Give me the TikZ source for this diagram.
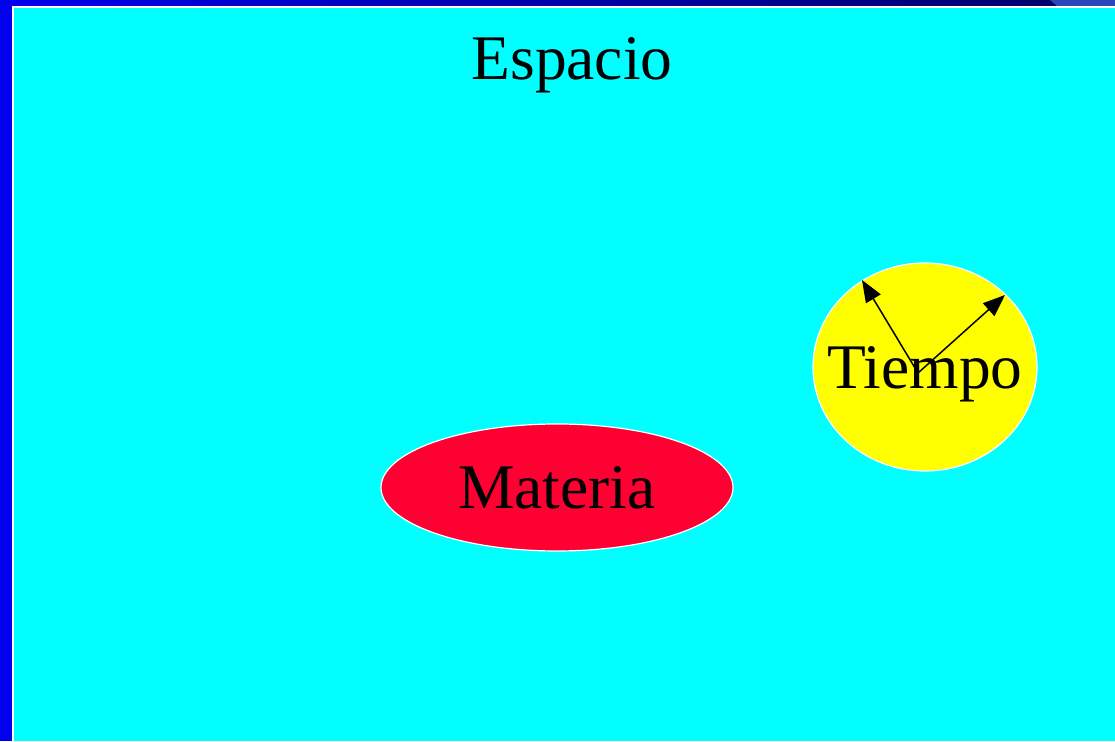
\documentclass[tikz,border=0pt]{standalone}
\usepackage{fontspec}
\setmainfont{Liberation Serif}
\usetikzlibrary{shapes.geometric,arrows.meta}

\definecolor{azul}{HTML}{0000EE}
\definecolor{marino}{HTML}{000066}
\definecolor{claro}{HTML}{2A48B8}
\definecolor{cian}{HTML}{00FFFF}
\definecolor{rojo}{HTML}{FF0033}
\definecolor{amarillo}{HTML}{FFFF00}

\begin{document}
\begin{tikzpicture}[x=1pt,y=1pt]
        \tikzstyle{every node}=[font=\fontsize{63.5}{70}\selectfont, inner sep=0pt]
        \tikzstyle{conjunto}=[ellipse, draw=white, line width=1.2pt, text depth=0pt]
        \tikzstyle{flecha}=[-{Triangle[length=22pt,width=17pt]}, line width=1.5pt]

        % fondo
        \fill[azul] (0,0) rectangle (1115,741);
        \shade[left color=azul, right color=marino] (0,735) rectangle (1115,741);
        \fill[claro] (1050,741) -- (1115,741) -- (1115,735) -- (1057,735) -- cycle;
        \fill[white] (12,0) rectangle (1115,735);
        \fill[cian] (14,0) rectangle (1115,733);

        \node   (espacio)   [anchor=base] at (572,661) {Espacio};
        \node   (materia)   [conjunto, fill=rojo, minimum width=352, minimum height=127] at (557,253.5) {Materia};
        \node   (tiempo)    [conjunto, fill=amarillo, inner xsep=-19.5pt, minimum width=224, minimum height=208] at (925,374) {Tiempo};

        \coordinate (origen) at (918,368);
        \coordinate (pasado) at (862,461);
        \coordinate (futuro) at (1005,446);
        \draw[flecha] (origen) -- (pasado);
        \draw[flecha] (origen) -- (futuro);

    \end{tikzpicture}
\end{document}
